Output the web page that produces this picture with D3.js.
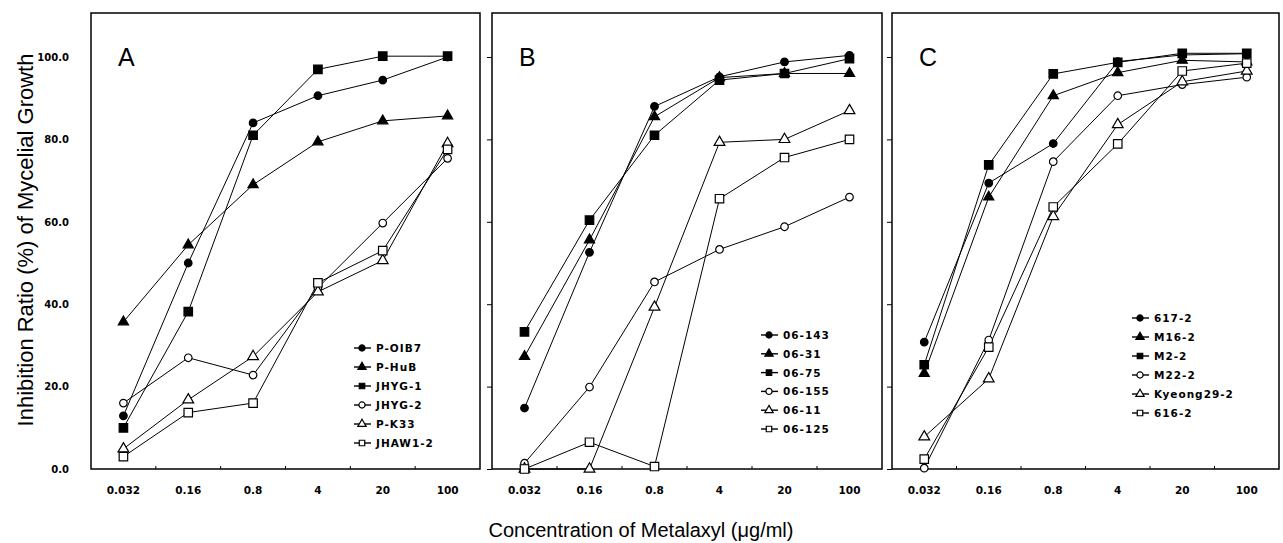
<!DOCTYPE html>
<html>
  <head>
    <meta charset="utf-8">
    <title>Metalaxyl inhibition</title>
    <script src="https://d3js.org/d3.v7.min.js"></script>
    <style>
      body { margin: 0; background: #fff; }
    </style>
  </head>
  <body>
    <script>
      // concentrations on the x axis (ug/ml)
      const concentrations = ["0.032", "0.16", "0.8", "4", "20", "100"];
      const concLabels = ["0.032", "0.16", "0.8", "4", "20", "100"];
      const yTicks = [0, 20, 40, 60, 80, 100];

      // panel A
      const isolatesA = ["P-OIB7", "P-HuB", "JHYG-1", "JHYG-2", "P-K33", "JHAW1-2"];
      const valuesA = [
        [12.9, 50.0, 84.0, 90.6, 94.4, 100.0],
        [35.7, 54.4, 69.0, 79.4, 84.5, 85.7],
        [10.0, 38.2, 81.0, 97.0, 100.2, 100.2],
        [16.0, 27.0, 22.8, 44.0, 59.7, 75.4],
        [4.9, 16.8, 27.3, 43.0, 50.6, 79.0],
        [3.0, 13.7, 16.0, 45.2, 53.0, 77.6]
      ];

      // panel B
      const isolatesB = ["06-143", "06-31", "06-75", "06-155", "06-11", "06-125"];
      const valuesB = [
        [14.8, 52.6, 88.0, 95.2, 98.8, 100.4],
        [27.3, 55.6, 85.5, 95.0, 96.0, 96.0],
        [33.3, 60.4, 81.0, 94.4, 96.0, 99.6],
        [1.4, 19.9, 45.4, 53.3, 58.8, 66.0],
        [0.0, 0.0, 39.3, 79.3, 80.0, 87.0],
        [0.0, 6.5, 0.6, 65.6, 75.6, 80.0]
      ];

      // panel C
      const isolatesC = ["617-2", "M16-2", "M2-2", "M22-2", "Kyeong29-2", "616-2"];
      const valuesC = [
        [30.8, 69.4, 79.0, 98.9, 100.5, 100.8],
        [23.2, 66.0, 90.6, 96.2, 99.2, 98.8],
        [25.3, 73.8, 95.9, 98.7, 100.9, 100.9],
        [0.2, 31.3, 74.6, 90.6, 93.3, 95.1],
        [7.8, 21.9, 61.3, 83.6, 94.0, 96.6],
        [2.4, 29.6, 63.6, 78.9, 96.6, 98.5]
      ];

      const width = 1283;
      const height = 543;

      const svg = d3.select("body")
        .append("svg")
          .attr("width", width)
          .attr("height", height);

      const yScale = d3.scaleLinear()
        .domain([0, 100])
        .range([469, 57]);

      const frameTop = 13;
      const frameBottom = 469;

      // symbol for each series, same order in every panel
      const markers = [
        {type: d3.symbolCircle, size: 45, fill: "#000"},
        {type: d3.symbolTriangle, size: 45, fill: "#000"},
        {type: d3.symbolSquare, size: 72, fill: "#000"},
        {type: d3.symbolCircle, size: 45, fill: "#fff"},
        {type: d3.symbolTriangle, size: 50, fill: "#fff"},
        {type: d3.symbolSquare, size: 72, fill: "#fff"}
      ];

      const panels = [
        {letter: "A", left: 91, right: 480, names: isolatesA, values: valuesA,
         legendX: 362, legendY: 348, legendStep: 19, yLabels: true},
        {letter: "B", left: 492, right: 882, names: isolatesB, values: valuesB,
         legendX: 769, legendY: 335, legendStep: 18.8, yLabels: false},
        {letter: "C", left: 892, right: 1279, names: isolatesC, values: valuesC,
         legendX: 1140, legendY: 318, legendStep: 19, yLabels: false}
      ];

      panels.forEach(function(p) {
        const xScale = d3.scaleBand()
          .domain(concentrations)
          .range([p.left, p.right])
          .padding(0);

        const g = svg.append("g");

        // frame
        g.append("rect")
          .attr("x", p.left)
          .attr("y", frameTop)
          .attr("width", p.right - p.left)
          .attr("height", frameBottom - frameTop)
          .attr("fill", "none")
          .attr("stroke", "#000")
          .attr("stroke-width", 1.5);

        // x axis: labels at band centres, small ticks at band edges
        const xAxis = d3.axisBottom(xScale)
          .tickSize(0)
          .tickPadding(18)
          .tickFormat(function(d, i) { return concLabels[i]; });

        g.append("g")
          .attr("transform", "translate(0," + frameBottom + ")")
          .call(xAxis)
          .call(function(s) { s.select(".domain").remove(); })
          .selectAll("text")
            .attr("font-family", "DejaVu Sans")
            .attr("font-weight", "bold")
            .attr("font-size", 10.5)
            .attr("fill", "#000");

        g.selectAll(".band-tick")
          .data(concentrations.slice(1))
          .enter().append("line")
            .attr("x1", function(d) { return xScale(d); })
            .attr("x2", function(d) { return xScale(d); })
            .attr("y1", frameBottom)
            .attr("y2", frameBottom - 3)
            .attr("stroke", "#000")
            .attr("stroke-width", 1);

        // y axis
        const yAxis = d3.axisLeft(yScale)
          .tickValues(yTicks)
          .tickSize(p.yLabels ? 0 : 5)
          .tickPadding(p.yLabels ? 22 : 3)
          .tickFormat(p.yLabels ? d3.format(".1f") : "");

        g.append("g")
          .attr("transform", "translate(" + p.left + ",0)")
          .call(yAxis)
          .call(function(s) { s.select(".domain").remove(); })
          .selectAll("text")
            .attr("font-family", "DejaVu Sans")
            .attr("font-weight", "bold")
            .attr("font-size", 10)
            .attr("fill", "#000");

        // panel letter
        g.append("text")
          .attr("x", p.left + 27)
          .attr("y", 66)
          .attr("font-family", "Liberation Sans")
          .attr("font-size", 25)
          .text(p.letter);

        const line = d3.line()
          .x(function(d, i) { return xScale.bandwidth() / 2 + xScale(concentrations[i]); })
          .y(function(d) { return yScale(d); });

        p.values.forEach(function(vals) {
          g.append("path")
            .attr("d", line(vals))
            .attr("fill", "none")
            .attr("stroke", "#000")
            .attr("stroke-width", 1);
        });

        p.values.forEach(function(vals, si) {
          const m = markers[si];
          g.selectAll(null)
            .data(vals)
            .enter().append("path")
              .attr("d", d3.symbol().type(m.type).size(m.size))
              .attr("transform", function(d, i) {
                const cx = xScale(concentrations[i]) + xScale.bandwidth() / 2;
                return "translate(" + cx + "," + yScale(d) + ")";
              })
              .attr("fill", m.fill)
              .attr("stroke", "#000")
              .attr("stroke-width", 1.2);
        });

        // legend
        p.names.forEach(function(name, si) {
          const m = markers[si];
          const ly = p.legendY + si * p.legendStep;
          g.append("line")
            .attr("x1", p.legendX - 8)
            .attr("x2", p.legendX + 9)
            .attr("y1", ly)
            .attr("y2", ly)
            .attr("stroke", "#000")
            .attr("stroke-width", 1.4);
          g.append("path")
            .attr("d", d3.symbol().type(m.type).size(30))
            .attr("transform", "translate(" + p.legendX + "," + ly + ")")
            .attr("fill", m.fill)
            .attr("stroke", "#000")
            .attr("stroke-width", 1.2);
          g.append("text")
            .attr("x", p.legendX + 14)
            .attr("y", ly + 4)
            .attr("font-family", "DejaVu Sans")
            .attr("font-weight", "bold")
            .attr("font-size", 10.5)
            .attr("letter-spacing", 1)
            .text(name);
        });
      });

      // axis titles
      svg.append("text")
        .attr("transform", "translate(33,240) rotate(-90)")
        .attr("text-anchor", "middle")
        .attr("font-family", "Liberation Sans")
        .attr("font-size", 22)
        .text("Inhibition Ratio (%) of Mycelial Growth");

      svg.append("text")
        .attr("x", 641)
        .attr("y", 537)
        .attr("text-anchor", "middle")
        .attr("font-family", "Liberation Sans")
        .attr("font-size", 20)
        .text("Concentration of Metalaxyl (\u03bcg/ml)");
    </script>
  </body>
</html>
